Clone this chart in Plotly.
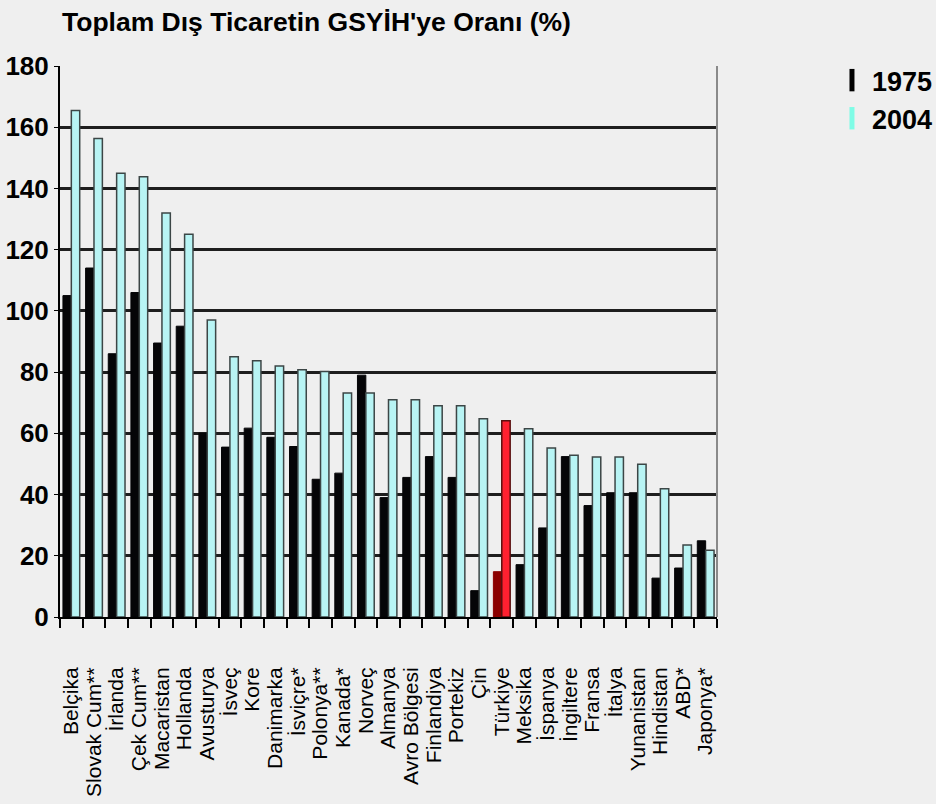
import plotly.graph_objects as go

# Countries, ordered as in the chart
countries = [
    "Belçika", "Slovak Cum**", "İrlanda", "Çek Cum**", "Macaristan", "Hollanda",
    "Avusturya", "İsveç", "Kore", "Danimarka", "İsviçre*", "Polonya**", "Kanada*",
    "Norveç", "Almanya", "Avro Bölgesi", "Finlandiya", "Portekiz", "Çin", "Türkiye",
    "Meksika", "İspanya", "İngiltere", "Fransa", "İtalya", "Yunanistan", "Hindistan",
    "ABD*", "Japonya*",
]

# Total foreign trade as a share of GDP (%)
values_1975 = [105, 114, 86, 106, 89.5, 95, 60, 55.5, 61.7, 58.7, 55.7, 45, 47,
               79, 39, 45.6, 52.4, 45.6, 8.6, 14.8, 17.1, 29.1, 52.4, 36.4, 40.6,
               40.6, 12.7, 16, 24.9]
values_2004 = [165.5, 156.3, 145, 143.8, 132, 125, 97, 85, 83.7, 82, 80.8, 80.2,
               73.2, 73.2, 71, 71, 69, 69, 64.8, 64.1, 61.5, 55.2, 52.8, 52.3, 52.3,
               49.9, 41.9, 23.5, 21.8]

highlight = "Türkiye"
BLACK, CYAN = "#050507", "#b8f4f4"
DARK_RED, RED = "#8b0000", "#ff2030"

colors_1975 = [DARK_RED if c == highlight else BLACK for c in countries]
colors_2004 = [RED if c == highlight else CYAN for c in countries]
lines_2004 = ["#5a1010" if c == highlight else "#3c4646" for c in countries]

FONT = "Arial, 'Liberation Sans', sans-serif"
BG = "#efefef"

fig = go.Figure()
fig.add_trace(go.Bar(
    x=countries, y=values_1975, name="1975", showlegend=False,
    marker=dict(color=colors_1975, line=dict(color=colors_1975, width=1)),
))
fig.add_trace(go.Bar(
    x=countries, y=values_2004, name="2004", showlegend=False,
    marker=dict(color=colors_2004, line=dict(color=lines_2004, width=1.5)),
))

# Legend entries drawn as narrow vertical swatches
for name, col in [("1975", "#000000"), ("2004", "#7ffce6")]:
    fig.add_trace(go.Scatter(
        x=[None], y=[None], mode="markers", name=name,
        marker=dict(symbol="line-ns", size=16, line=dict(color=col, width=6)),
    ))

fig.update_layout(
    width=936, height=804,
    paper_bgcolor=BG, plot_bgcolor=BG,
    margin=dict(l=60, r=219, t=66, b=187, autoexpand=False),
    barmode="group", bargap=0.26, bargroupgap=0,
    font=dict(family=FONT, color="#000000"),
    title=dict(
        text="<b>Toplam Dış Ticaretin GSYİH'ye Oranı (%)</b>",
        font=dict(family=FONT, size=26.5, color="#000000"),
        xref="container", x=62 / 936, xanchor="left",
        yref="container", y=1 - 22 / 804, yanchor="middle",
    ),
    legend=dict(
        x=1.175, y=1.018, xanchor="left", yanchor="top",
        bgcolor="rgba(0,0,0,0)", itemwidth=30,
        font=dict(family=FONT, size=27, color="#000000", weight="bold"),
        tracegroupgap=4,
    ),
    showlegend=True,
)

fig.update_xaxes(
    type="category", automargin=False,
    tickmode="array", tickvals=countries, ticktext=countries,
    tickangle=-90,
    tickfont=dict(family=FONT, size=21, color="#000000"),
    showline=True, linecolor="#000000", linewidth=2,
    ticks="outside", tickson="boundaries", ticklen=9, tickwidth=1.5,
    tickcolor="#000000", ticklabelstandoff=40,
    showgrid=False, zeroline=False,
)
fig.update_yaxes(
    range=[0, 180], dtick=20, automargin=False,
    tickfont=dict(family=FONT, size=26, color="#000000", weight="bold"),
    showline=True, linecolor="#000000", linewidth=2,
    ticks="outside", ticklen=4, tickcolor="#000000",
    showgrid=True, gridcolor="#1e1e1e", gridwidth=2.5,
    zeroline=False,
)

# Right frame edge of the plot area
fig.add_shape(type="line", xref="paper", yref="paper", x0=1, x1=1, y0=0, y1=1,
              line=dict(color="#8a8a8a", width=2))

fig.write_html("out.html")
